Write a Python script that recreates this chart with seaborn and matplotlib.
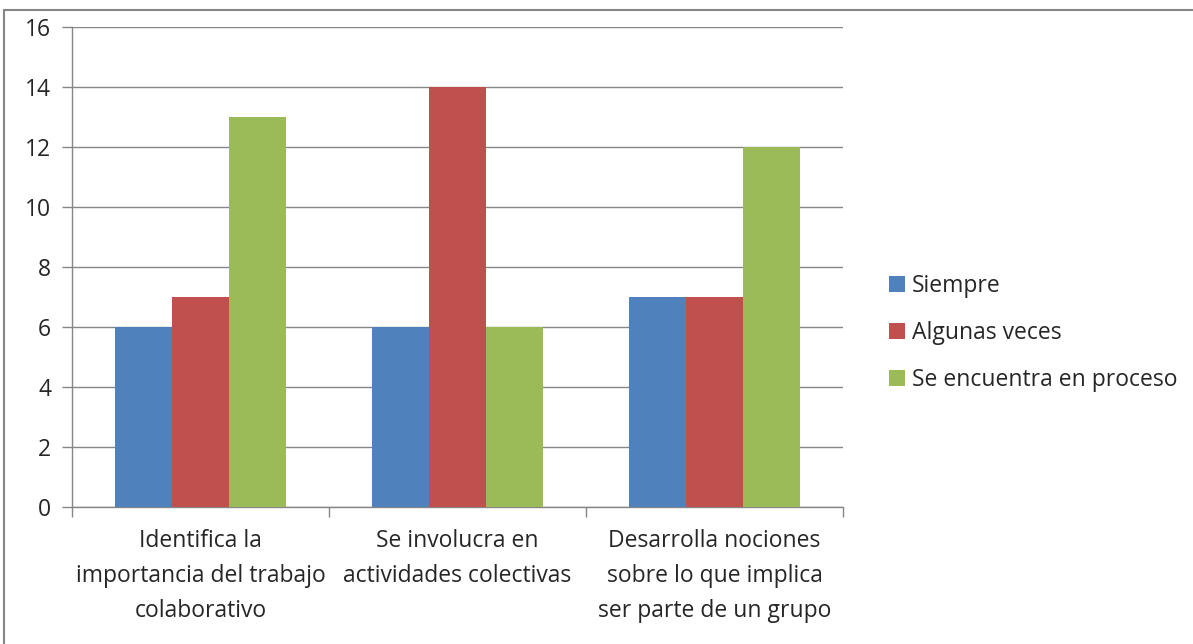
import pandas as pd
import seaborn as sns
import matplotlib.pyplot as plt
from matplotlib.lines import Line2D

# data
categorias = [
    "Identifica la\nimportancia del trabajo\ncolaborativo",
    "Se involucra en\nactividades colectivas",
    "Desarrolla nociones\nsobre lo que implica\nser parte de un grupo",
]
series = ["Siempre", "Algunas veces", "Se encuentra en proceso"]
siempre = [6, 6, 7]
algunas_veces = [7, 14, 7]
en_proceso = [13, 6, 12]
colores = ["#4F81BD", "#C0504D", "#9BBB59"]
titulo = "Participación en el trabajo de grupo"

df = pd.DataFrame({"categoria": categorias, series[0]: siempre,
                   series[1]: algunas_veces, series[2]: en_proceso})
df_long = pd.melt(df, "categoria", var_name="serie", value_name="valor")

sns.set_style("white")
plt.rcParams["font.family"] = ["Open Sans", "DejaVu Sans"]
gris = "#868686"
fs = 16.5

fig = plt.figure(figsize=(11.93, 6.44), dpi=100)
ax = fig.add_axes([72 / 1193, 1 - 507 / 644, (843 - 72) / 1193, (507 - 27) / 644])

sns.barplot(data=df_long, x="categoria", y="valor", hue="serie",
            hue_order=series, palette=colores, width=0.666, saturation=1,
            linewidth=0, ax=ax, zorder=3)

ax.set_ylim(0, 16)
ax.set_xlim(-0.5, 2.5)
ax.set_yticks(range(0, 17, 2))
ax.yaxis.grid(True, color=gris, linewidth=1, zorder=0)
ax.set_axisbelow(True)
for s in ["top", "right"]:
    ax.spines[s].set_visible(False)
for s in ["left", "bottom"]:
    ax.spines[s].set_color(gris)
    ax.spines[s].set_linewidth(1)
ax.tick_params(axis="y", direction="out", length=7, color=gris, width=1,
               labelsize=fs, pad=8, left=True)
ax.tick_params(axis="x", which="major", length=0, labelsize=fs, pad=16)
ax.set_xticks([-0.5, 0.5, 1.5, 2.5], minor=True)
ax.tick_params(axis="x", which="minor", direction="out", length=7,
               color=gris, width=1, bottom=True)
for t in ax.get_xticklabels():
    t.set_linespacing(1.6)
ax.set_xlabel("")
ax.set_ylabel("")

leg = ax.legend(loc="center left", bbox_to_anchor=(889 / 1193, 1 - 333 / 644),
                bbox_transform=fig.transFigure, frameon=False, fontsize=fs,
                handlelength=0.7, handleheight=0.7, handletextpad=0.3,
                labelspacing=1.0, borderpad=0, borderaxespad=0)

# outer chart border
fig.add_artist(Line2D([4 / 1193, 4 / 1193], [0, 1 - 10 / 644], color=gris,
                      linewidth=1.5, transform=fig.transFigure))
fig.add_artist(Line2D([4 / 1193, 1], [1 - 10 / 644, 1 - 10 / 644], color=gris,
                      linewidth=1.5, transform=fig.transFigure))

# title (cropped at the top of the image)
fig.text(855 / 1193, 1 + 7 / 644, titulo, ha="right", va="baseline",
         fontsize=18, fontweight="bold")

fig.savefig("out.png", dpi=100)
